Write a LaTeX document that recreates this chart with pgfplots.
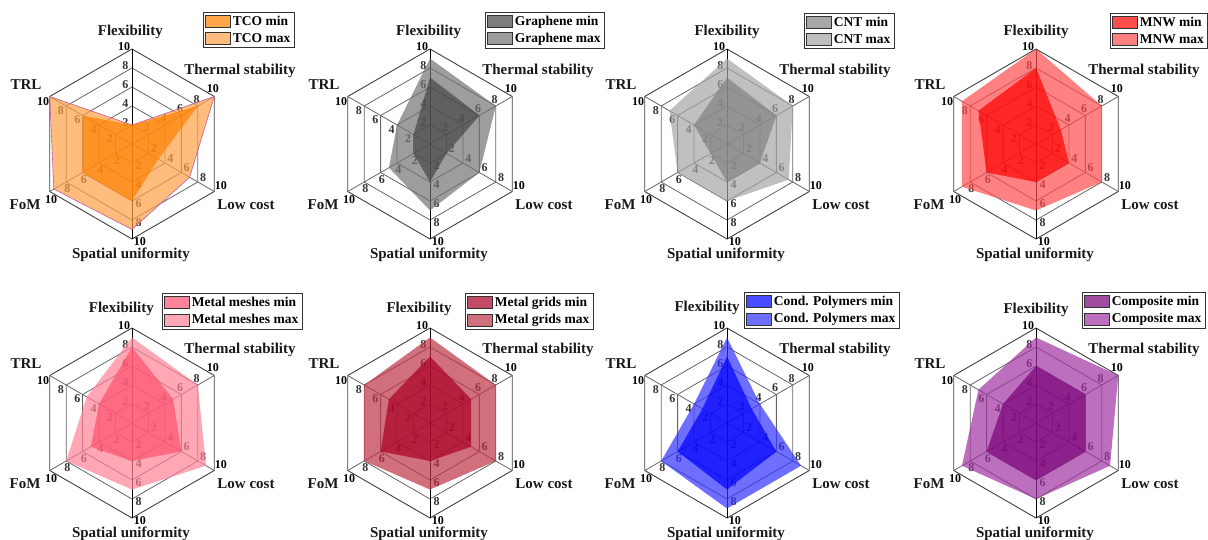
\documentclass[border=0pt]{standalone}
\usepackage{fontspec}
\setmainfont{Liberation Serif}
\usepackage{pgfplots}
\pgfplotsset{compat=1.18}
\usepgfplotslibrary{polar}

\definecolor{tcomin}{RGB}{255,128,0}
\definecolor{tcomax}{RGB}{255,160,70}
\definecolor{tcoedge}{RGB}{200,90,160}
\definecolor{grmin}{RGB}{70,70,70}
\definecolor{grmax}{RGB}{115,115,115}
\definecolor{cntmin}{RGB}{130,130,130}
\definecolor{cntmax}{RGB}{165,165,165}
\definecolor{mnwmin}{RGB}{255,0,0}
\definecolor{mnwmax}{RGB}{255,75,75}
\definecolor{mmmin}{RGB}{255,80,110}
\definecolor{mmmax}{RGB}{255,130,150}
\definecolor{mgmin}{RGB}{170,0,35}
\definecolor{mgmax}{RGB}{190,50,70}
\definecolor{cpmin}{RGB}{0,0,255}
\definecolor{cpmax}{RGB}{50,50,255}
\definecolor{comin}{RGB}{120,0,120}
\definecolor{comax}{RGB}{160,50,160}

\newcommand{\legfont}{\fontsize{13.5pt}{15pt}\selectfont\bfseries}

\tikzset{
 ticklab/.style={font=\fontsize{12pt}{13pt}\selectfont\bfseries, text=black!80, inner sep=0pt},
 ticklabten/.style={font=\fontsize{12pt}{13pt}\selectfont\bfseries, text=black, inner sep=0pt},
 axlab/.style={font=\fontsize{15pt}{17pt}\selectfont\bfseries, text=black!90, inner sep=0pt},
}

\pgfplotsset{
 radar/.style={hide axis, scale only axis, width=190pt, height=190pt,
   xmin=0, xmax=360, ymin=0, ymax=10, clip=false, anchor=center,
   reverse legend, legend cell align=left,
   legend image code/.code={\draw[##1, draw=black!80, line width=0.6pt] (0pt,-6pt) rectangle (25pt,6pt);},
   legend style={draw=black!80, line width=0.7pt, fill=white,
     font=\legfont,
     inner sep=1.5pt, row sep=1.5pt,
     nodes={inner sep=2.4pt, font=\legfont}, anchor=north west}},
 gridline/.style={draw=black!60, line width=0.8pt},
 rfill/.style={fill=#1, fill opacity=0.7, draw=none},
}

\newcommand{\radargrid}{%
 \pgfplotsinvokeforeach{2,4,6,8}{\addplot[gridline, forget plot] coordinates {(90,##1) (30,##1) (330,##1) (270,##1) (210,##1) (150,##1) (90,##1)};}%
 \addplot[draw=black!75, line width=0.9pt, forget plot] coordinates {(90,10) (30,10) (330,10) (270,10) (210,10) (150,10) (90,10)};
 \pgfplotsinvokeforeach{30,330,210,150}{\addplot[gridline, forget plot] coordinates {(##1,0) (##1,10)};}%
 \addplot[draw=black, line width=0.9pt, forget plot] coordinates {(90,0) (90,10)};
 \addplot[draw=black, line width=0.9pt, forget plot] coordinates {(270,0) (270,10)};
 \pgfplotsinvokeforeach{90,30,330,270,210,150}{%
   \node[ticklab, shift={({##1+70}:7pt)}] at (axis cs:##1,2) {2};
   \node[ticklab, shift={({##1+70}:7pt)}] at (axis cs:##1,4) {4};
   \node[ticklab, shift={({##1+70}:7pt)}] at (axis cs:##1,6) {6};
   \node[ticklab, shift={({##1+70}:7pt)}] at (axis cs:##1,8) {8};
   \node[ticklabten, shift={({##1+70}:8.5pt)}] at (axis cs:##1,10) {10};
 }%
}

% #1 cx, #2 cy, #3 flexibility dx, #4 flexibility dy
\newcommand{\radarnames}[4]{%
 \node[axlab] at ({#1pt+#3pt},{#2pt+#4pt}) {Flexibility};
 \node[axlab] at ({#1pt+108pt},{#2pt+73pt}) {Thermal stability};
 \node[axlab] at ({#1pt+114pt},{#2pt-61pt}) {Low cost};
 \node[axlab] at ({#1pt-1pt},{#2pt-110.5pt}) {Spatial uniformity};
 \node[axlab] at ({#1pt-107pt},{#2pt-61pt}) {FoM};
 \node[axlab] at ({#1pt-106pt},{#2pt+59pt}) {TRL};
}

\begin{document}
\begin{tikzpicture}
\useasboundingbox (0pt,0pt) rectangle (1208pt,540pt);

% ---------- TCO ----------
\begin{polaraxis}[radar, at={(132pt,396pt)}, legend style={at={(0.874,1.195)}}]
\radargrid
\addplot[rfill=tcomax, draw=tcoedge, line width=0.6pt] coordinates {(90,2) (30,10) (330,7) (270,9) (210,9.5) (150,10) (90,2)};
\addlegendentry{TCO max}
\addplot[rfill=tcomin] coordinates {(90,2) (30,8) (330,3.2) (270,6) (210,6) (150,6) (90,2)};
\addlegendentry{TCO min}
\end{polaraxis}
\radarnames{132}{396}{-1.6}{112}

% ---------- Graphene ----------
\begin{polaraxis}[radar, at={(430pt,396pt)}, legend style={at={(0.789,1.195)}}]
\radargrid
\addplot[rfill=grmax] coordinates {(90,9) (30,8) (330,6) (270,7) (210,5) (150,4) (90,9)};
\addlegendentry{Graphene max}
\addplot[rfill=grmin] coordinates {(90,7) (30,6) (330,2) (270,4) (210,2) (150,2) (90,7)};
\addlegendentry{Graphene min}
\end{polaraxis}
\radarnames{430}{396}{-1.3}{112}

% ---------- CNT ----------
\begin{polaraxis}[radar, at={(727pt,396pt)}, legend style={at={(0.905,1.189)}}]
\radargrid
\addplot[rfill=cntmax] coordinates {(90,9) (30,8) (330,7.5) (270,6) (210,6) (150,7) (90,9)};
\addlegendentry{CNT max}
\addplot[rfill=cntmin] coordinates {(90,7) (30,6) (330,4) (270,4) (210,2) (150,4) (90,7)};
\addlegendentry{CNT min}
\end{polaraxis}
\radarnames{727}{396}{0}{112}

% ---------- MNW ----------
\begin{polaraxis}[radar, at={(1036pt,396pt)}, legend style={at={(0.889,1.189)}}]
\radargrid
\addplot[rfill=mnwmax] coordinates {(90,10) (30,8) (330,8) (270,7) (210,9) (150,9) (90,10)};
\addlegendentry{MNW max}
\addplot[rfill=mnwmin] coordinates {(90,8) (30,3) (330,4) (270,4) (210,6) (150,7) (90,8)};
\addlegendentry{MNW min}
\end{polaraxis}
\radarnames{1036}{396}{0}{112}

% ---------- Metal meshes ----------
\begin{polaraxis}[radar, at={(132pt,117pt)}, legend style={at={(0.658,1.184)}}]
\radargrid
\addplot[rfill=mmmax] coordinates {(90,9) (30,8) (330,9) (270,7) (210,8) (150,5.5) (90,9)};
\addlegendentry{Metal meshes max}
\addplot[rfill=mmmin] coordinates {(90,8) (30,5) (330,6) (270,4) (210,5) (150,4) (90,8)};
\addlegendentry{Metal meshes min}
\end{polaraxis}
\radarnames{132}{117}{-10.6}{114}

% ---------- Metal grids ----------
\begin{polaraxis}[radar, at={(430pt,117pt)}, legend style={at={(0.684,1.184)}}]
\radargrid
\addplot[rfill=mgmax] coordinates {(90,9) (30,8) (330,8) (270,7) (210,8) (150,8) (90,9)};
\addlegendentry{Metal grids max}
\addplot[rfill=mgmin] coordinates {(90,7) (30,5) (330,5) (270,4) (210,6) (150,5) (90,7)};
\addlegendentry{Metal grids min}
\end{polaraxis}
\radarnames{430}{117}{-11}{114}

% ---------- Cond. Polymers ----------
\begin{polaraxis}[radar, at={(727pt,117pt)}, legend style={at={(0.589,1.189)}}]
\radargrid
\addplot[rfill=cpmax] coordinates {(90,9) (30,4) (330,9) (270,9) (210,8) (150,4) (90,9)};
\addlegendentry{Cond. Polymers max}
\addplot[rfill=cpmin] coordinates {(90,7) (30,3) (330,6) (270,7) (210,6) (150,3) (90,7)};
\addlegendentry{Cond. Polymers min}
\end{polaraxis}
\radarnames{727}{117}{-20}{115}

% ---------- Composite ----------
\begin{polaraxis}[radar, at={(1036pt,117pt)}, legend style={at={(0.742,1.189)}}]
\radargrid
\addplot[rfill=comax] coordinates {(90,9) (30,10) (330,9) (270,8) (210,9) (150,7) (90,9)};
\addlegendentry{Composite max}
\addplot[rfill=comin] coordinates {(90,6) (30,6) (330,6) (270,6) (210,6) (150,4) (90,6)};
\addlegendentry{Composite min}
\end{polaraxis}
\radarnames{1036}{117}{0}{113}

\end{tikzpicture}
\end{document}
